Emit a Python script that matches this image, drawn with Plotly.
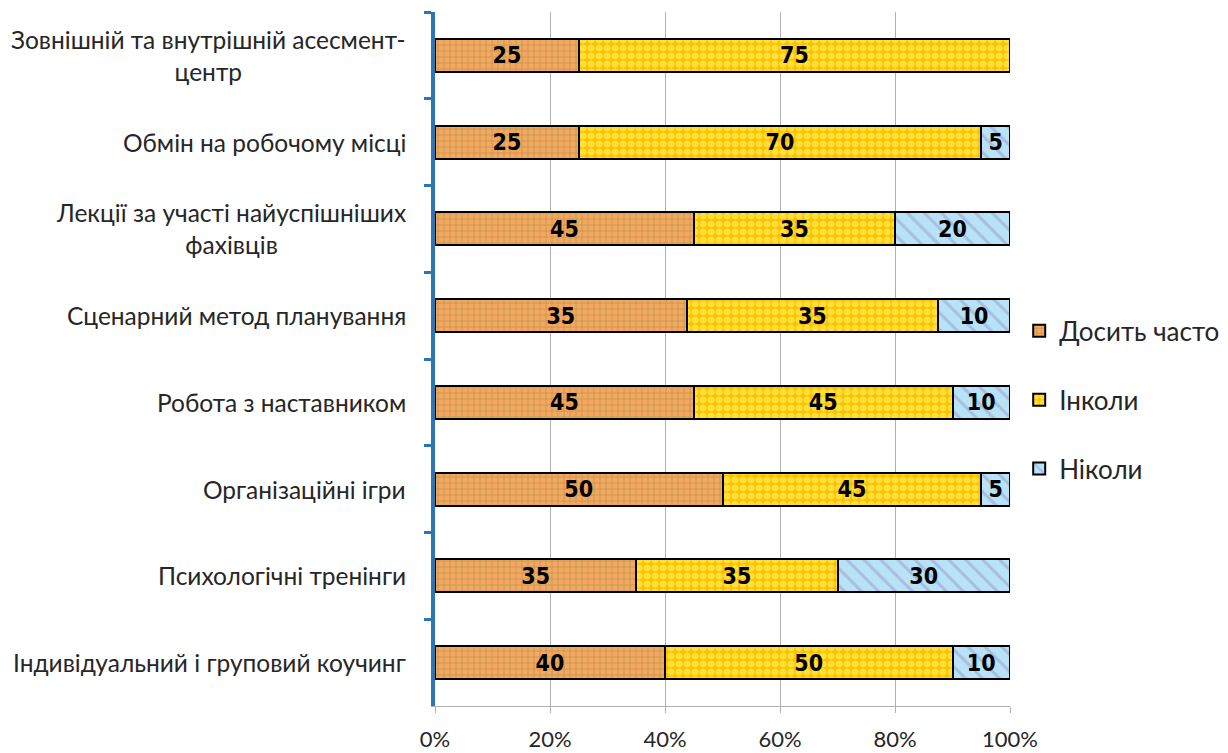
import plotly.graph_objects as go

categories = [
    "Зовнішній та внутрішній асесмент-<br>центр",
    "Обмін на робочому місці",
    "Лекції за участі найуспішніших<br>фахівців",
    "Сценарний метод планування",
    "Робота з наставником",
    "Організаційні ігри",
    "Психологічні тренінги",
    "Індивідуальний і груповий коучинг",
]
often = [25, 25, 45, 35, 45, 50, 35, 40]
sometimes = [75, 70, 35, 35, 45, 45, 35, 50]
never = [None, 5, 20, 10, 10, 5, 30, 10]
series_names = ["Досить часто", "Інколи", "Ніколи"]
x_ticks = [0, 20, 40, 60, 80, 100]

styles = [
    dict(bg="#F6A65E", fg="#5E8A3A", shape="+", size=6, solidity=0.2),
    dict(bg="#FFC000", fg="#FFFF70", shape=".", size=8, solidity=0.6),
    dict(bg="#B7E2F7", fg="#9A9ACB", shape="\\", size=12, solidity=0.25),
]

fig = go.Figure()
for name, vals, st in zip(series_names, [often, sometimes, never], styles):
    fig.add_trace(go.Bar(
        y=categories, x=vals, name=name, orientation="h",
        text=[("" if v is None else str(v)) for v in vals],
        textposition="inside", insidetextanchor="middle", textangle=0,
        textfont=dict(family="DejaVu Sans Condensed, Roboto Condensed, sans-serif",
                      size=23, color="black", weight="bold"),
        marker=dict(color=st["bg"], line=dict(color="black", width=2),
                    pattern=dict(shape=st["shape"], fgcolor=st["fg"], bgcolor=st["bg"],
                                 size=st["size"], solidity=st["solidity"], fillmode="overlay")),
        legendgroup=name,
    ))

for c in categories:
    fig.add_annotation(
        x=0, xref="paper", y=c, yref="y", xanchor="right", xshift=-27,
        text=c, showarrow=False, align="center",
        font=dict(family="Lato", size=24.5, color="#262626"),
    )

fig.update_layout(
    barmode="stack", barnorm="percent", bargap=0.62,
    width=1228, height=753,
    margin=dict(l=435, r=218, t=12, b=47, autoexpand=False),
    paper_bgcolor="white", plot_bgcolor="white",
    font=dict(family="Lato", color="#262626"),
    legend=dict(x=1.016, y=0.441, yanchor="middle", xanchor="left",
                font=dict(size=26, color="#262626"), tracegroupgap=32,
                traceorder="grouped", itemwidth=30),
    uniformtext=dict(mode="show", minsize=10),
)
fig.update_xaxes(
    range=[0, 100], tickvals=x_ticks, ticktext=[f"{t}%" for t in x_ticks],
    showgrid=True, gridcolor="#B0B0B0", gridwidth=1,
    showline=True, linecolor="#B0B0B0", linewidth=1, automargin=False,
    ticks="outside", ticklen=6, tickcolor="#B0B0B0", ticklabelstandoff=8,
    tickfont=dict(family="Lato", size=22, color="#262626"), zeroline=False,
)
fig.update_yaxes(
    categoryorder="array", categoryarray=categories, autorange="reversed",
    showline=True, linecolor="#2E75B6", linewidth=4, automargin=False,
    ticks="outside", tickson="boundaries", ticklen=7, tickcolor="#2E75B6", tickwidth=3,
    showticklabels=False, showgrid=False,
)
fig.write_html("out.html")
